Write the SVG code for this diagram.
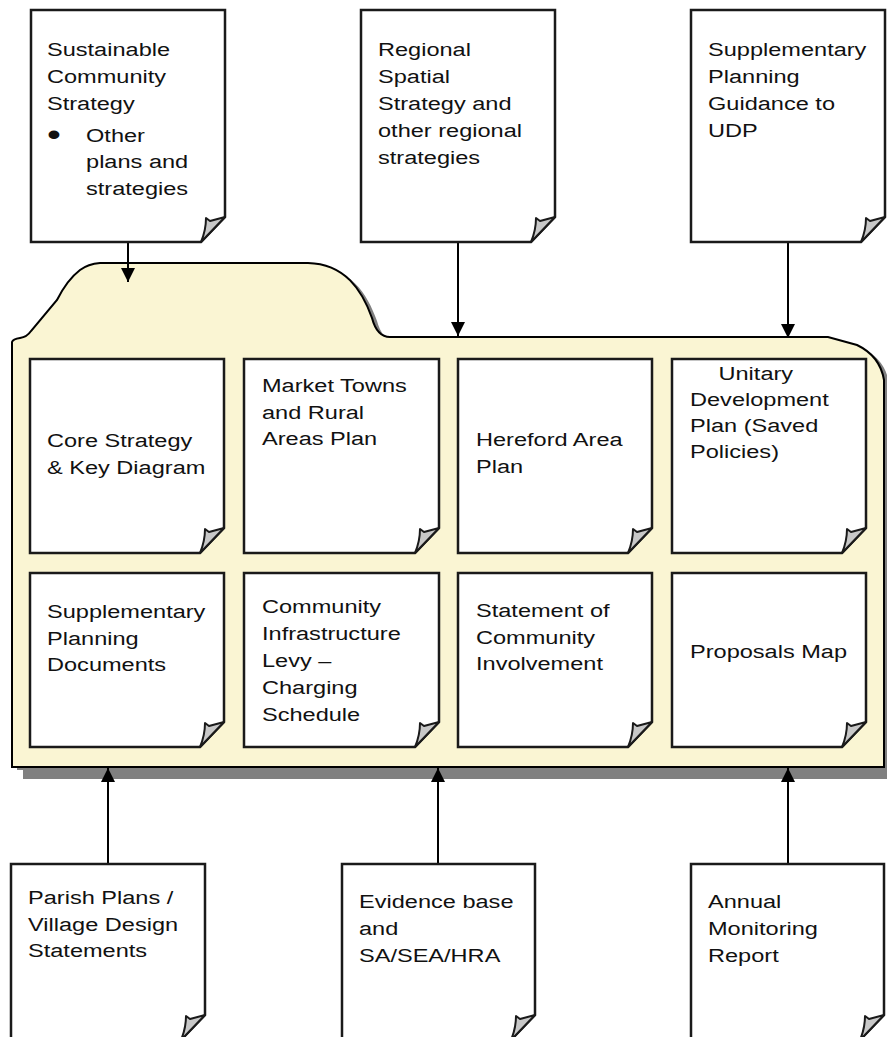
<svg xmlns="http://www.w3.org/2000/svg" xmlns:xlink="http://www.w3.org/1999/xlink" width="887" height="1037" viewBox="0 0 887 1037">
<style>
.doc{fill:#fff;stroke:#1a1a1a;stroke-width:2.5;stroke-linejoin:miter}
.fold{fill:#c8c8c8;stroke:#1a1a1a;stroke-width:2;stroke-linejoin:round}
.t{font-family:"Liberation Sans",Arial,sans-serif;font-size:19px;fill:#111}
.con{stroke:#000;stroke-width:2;fill:none}
</style>
<defs>
<path id="fold" d="M0,-25 L-15,-21 L-19,-24 Q-19,-12 -24,0 Z"/>
<marker id="ah" markerUnits="userSpaceOnUse" markerWidth="14" markerHeight="14" viewBox="0 0 14 14" refX="14" refY="7" orient="auto">
<path d="M0,0 L14,7 L0,14 Z" fill="#000"/>
</marker>
</defs>
<rect width="887" height="1037" fill="#fff"/>

<g id="folder">
<path d="M12,767 V342 Q13,339 20,338 Q27,337 31,331 L57,300 Q67,280 80,270 Q88,264 100,263 H308 C345,264 362,290 372,318 Q377,337 390,337 H828 L857,345 Q880,356 884,380 V767 Z" fill="#808080" transform="translate(5,3)"/>
<rect x="23" y="767" width="870" height="12" fill="#808080"/>
<path d="M12,767 V342 Q13,339 20,338 Q27,337 31,331 L57,300 Q67,280 80,270 Q88,264 100,263 H308 C345,264 362,290 372,318 Q377,337 390,337 H828 L857,345 Q880,356 884,380 V767 Z" fill="#faf5d3" stroke="#000" stroke-width="2"/>
</g>

<g id="connectors">
<line class="con" x1="128" y1="243" x2="128" y2="282" marker-end="url(#ah)"/>
<line class="con" x1="458" y1="243" x2="458" y2="336" marker-end="url(#ah)"/>
<line class="con" x1="788" y1="243" x2="788" y2="338" marker-end="url(#ah)"/>
<line class="con" x1="108" y1="863" x2="108" y2="768" marker-end="url(#ah)"/>
<line class="con" x1="438" y1="863" x2="438" y2="768" marker-end="url(#ah)"/>
<line class="con" x1="788" y1="863" x2="788" y2="768" marker-end="url(#ah)"/>
</g>

<g id="n-sustainable">
<path class="doc" d="M31,10 H225 V217 L201,242 H31 Z"/>
<use xlink:href="#fold" href="#fold" x="225" y="242" class="fold"/>
<text class="t" transform="matrix(1.24 0 0 1 47 0)"><tspan x="0" y="56">Sustainable</tspan><tspan x="0" y="83">Community</tspan><tspan x="0" y="110">Strategy</tspan></text>
<text class="t" transform="matrix(1.24 0 0 1 47 0)"><tspan x="0" y="145" font-size="32">•</tspan><tspan x="31.5" y="142">Other</tspan><tspan x="31.5" y="168">plans and</tspan><tspan x="31.5" y="195">strategies</tspan></text>
</g>

<g id="n-regional">
<path class="doc" d="M361,10 H555 V217 L531,242 H361 Z"/>
<use xlink:href="#fold" href="#fold" x="555" y="242" class="fold"/>
<text class="t" transform="matrix(1.24 0 0 1 378 0)"><tspan x="0" y="56">Regional</tspan><tspan x="0" y="83">Spatial</tspan><tspan x="0" y="110">Strategy and</tspan><tspan x="0" y="137">other regional</tspan><tspan x="0" y="164">strategies</tspan></text>
</g>

<g id="n-spg">
<path class="doc" d="M691,10 H885 V217 L861,242 H691 Z"/>
<use xlink:href="#fold" href="#fold" x="885" y="242" class="fold"/>
<text class="t" transform="matrix(1.24 0 0 1 708 0)"><tspan x="0" y="56">Supplementary</tspan><tspan x="0" y="83">Planning</tspan><tspan x="0" y="110">Guidance to</tspan><tspan x="0" y="137">UDP</tspan></text>
</g>

<g id="n-core">
<path class="doc" d="M30,359 H224 V528 L200,553 H30 Z"/>
<use xlink:href="#fold" href="#fold" x="224" y="553" class="fold"/>
<text class="t" transform="matrix(1.24 0 0 1 47 0)"><tspan x="0" y="447">Core Strategy</tspan><tspan x="0" y="474">&amp; Key Diagram</tspan></text>
</g>

<g id="n-market">
<path class="doc" d="M244,359 H439 V528 L415,553 H244 Z"/>
<use xlink:href="#fold" href="#fold" x="439" y="553" class="fold"/>
<text class="t" transform="matrix(1.24 0 0 1 262 0)"><tspan x="0" y="392">Market Towns</tspan><tspan x="0" y="419">and Rural</tspan><tspan x="0" y="445">Areas Plan</tspan></text>
</g>

<g id="n-hereford">
<path class="doc" d="M458,359 H652 V528 L628,553 H458 Z"/>
<use xlink:href="#fold" href="#fold" x="652" y="553" class="fold"/>
<text class="t" transform="matrix(1.24 0 0 1 476 0)"><tspan x="0" y="446">Hereford Area</tspan><tspan x="0" y="473">Plan</tspan></text>
</g>

<g id="n-udp">
<path class="doc" d="M672,359 H866 V528 L842,553 H672 Z"/>
<use xlink:href="#fold" href="#fold" x="866" y="553" class="fold"/>
<text class="t" transform="matrix(1.24 0 0 1 690 0)"><tspan x="23" y="380">Unitary</tspan><tspan x="0" y="406">Development</tspan><tspan x="0" y="432">Plan (Saved</tspan><tspan x="0" y="458">Policies)</tspan></text>
</g>

<g id="n-spd">
<path class="doc" d="M30,573 H224 V722 L200,747 H30 Z"/>
<use xlink:href="#fold" href="#fold" x="224" y="747" class="fold"/>
<text class="t" transform="matrix(1.24 0 0 1 47 0)"><tspan x="0" y="618">Supplementary</tspan><tspan x="0" y="645">Planning</tspan><tspan x="0" y="671">Documents</tspan></text>
</g>

<g id="n-cil">
<path class="doc" d="M244,573 H439 V722 L415,747 H244 Z"/>
<use xlink:href="#fold" href="#fold" x="439" y="747" class="fold"/>
<text class="t" transform="matrix(1.24 0 0 1 262 0)"><tspan x="0" y="613">Community</tspan><tspan x="0" y="640">Infrastructure</tspan><tspan x="0" y="667">Levy –</tspan><tspan x="0" y="694">Charging</tspan><tspan x="0" y="721">Schedule</tspan></text>
</g>

<g id="n-sci">
<path class="doc" d="M458,573 H652 V722 L628,747 H458 Z"/>
<use xlink:href="#fold" href="#fold" x="652" y="747" class="fold"/>
<text class="t" transform="matrix(1.24 0 0 1 476 0)"><tspan x="0" y="617">Statement of</tspan><tspan x="0" y="644">Community</tspan><tspan x="0" y="670">Involvement</tspan></text>
</g>

<g id="n-proposals">
<path class="doc" d="M672,573 H866 V722 L842,747 H672 Z"/>
<use xlink:href="#fold" href="#fold" x="866" y="747" class="fold"/>
<text class="t" transform="matrix(1.24 0 0 1 690 0)"><tspan x="0" y="658">Proposals Map</tspan></text>
</g>

<g id="n-parish">
<path class="doc" d="M11,864 H205 V1015 L181,1040 H11 Z"/>
<use xlink:href="#fold" href="#fold" x="205" y="1040" class="fold"/>
<text class="t" transform="matrix(1.24 0 0 1 28 0)"><tspan x="0" y="904">Parish Plans /</tspan><tspan x="0" y="931">Village Design</tspan><tspan x="0" y="957">Statements</tspan></text>
</g>

<g id="n-evidence">
<path class="doc" d="M342,864 H535 V1015 L511,1040 H342 Z"/>
<use xlink:href="#fold" href="#fold" x="535" y="1040" class="fold"/>
<text class="t" transform="matrix(1.24 0 0 1 359 0)"><tspan x="0" y="908">Evidence base</tspan><tspan x="0" y="935">and</tspan><tspan x="0" y="962">SA/SEA/HRA</tspan></text>
</g>

<g id="n-amr">
<path class="doc" d="M691,864 H884 V1015 L860,1040 H691 Z"/>
<use xlink:href="#fold" href="#fold" x="884" y="1040" class="fold"/>
<text class="t" transform="matrix(1.24 0 0 1 708 0)"><tspan x="0" y="908">Annual</tspan><tspan x="0" y="935">Monitoring</tspan><tspan x="0" y="962">Report</tspan></text>
</g>
</svg>
